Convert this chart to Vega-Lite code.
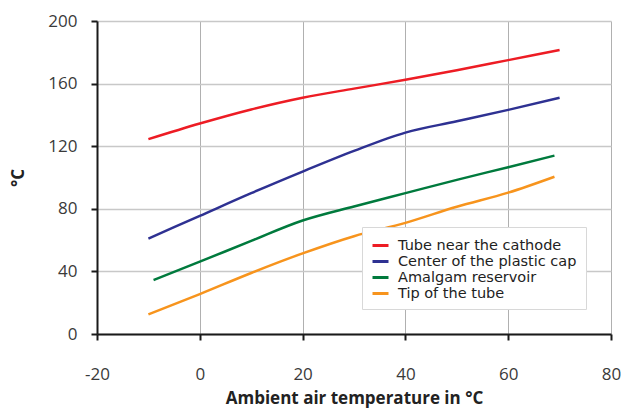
{
  "$schema": "https://vega.github.io/schema/vega-lite/v6.json",
  "autosize": "none",
  "padding": {"left": 97, "top": 21, "right": 23, "bottom": 83},
  "width": 514,
  "height": 313,
  "background": "white",
  "config": {
    "view": {"stroke": null},
    "font": "Open Sans"
  },
  "data": {
    "values": [
      {"series": "Tube near the cathode", "t": -10, "v": 124.5},
      {"series": "Tube near the cathode", "t": 0, "v": 134.5},
      {"series": "Tube near the cathode", "t": 10, "v": 143.5},
      {"series": "Tube near the cathode", "t": 20, "v": 151},
      {"series": "Tube near the cathode", "t": 30, "v": 156.8},
      {"series": "Tube near the cathode", "t": 40, "v": 162.4},
      {"series": "Tube near the cathode", "t": 50, "v": 168.5},
      {"series": "Tube near the cathode", "t": 60, "v": 175},
      {"series": "Tube near the cathode", "t": 70, "v": 181.5},
      {"series": "Center of the plastic cap", "t": -10, "v": 61},
      {"series": "Center of the plastic cap", "t": 0, "v": 75.5},
      {"series": "Center of the plastic cap", "t": 10, "v": 90},
      {"series": "Center of the plastic cap", "t": 20, "v": 103.8},
      {"series": "Center of the plastic cap", "t": 30, "v": 117},
      {"series": "Center of the plastic cap", "t": 40, "v": 128.7},
      {"series": "Center of the plastic cap", "t": 50, "v": 135.9},
      {"series": "Center of the plastic cap", "t": 60, "v": 143.2},
      {"series": "Center of the plastic cap", "t": 70, "v": 151},
      {"series": "Amalgam reservoir", "t": -9, "v": 34.5},
      {"series": "Amalgam reservoir", "t": 0, "v": 46.2},
      {"series": "Amalgam reservoir", "t": 10, "v": 59.5},
      {"series": "Amalgam reservoir", "t": 20, "v": 72.5},
      {"series": "Amalgam reservoir", "t": 30, "v": 81.5},
      {"series": "Amalgam reservoir", "t": 40, "v": 90},
      {"series": "Amalgam reservoir", "t": 50, "v": 98.5},
      {"series": "Amalgam reservoir", "t": 60, "v": 106.6},
      {"series": "Amalgam reservoir", "t": 69, "v": 114},
      {"series": "Tip of the tube", "t": -10, "v": 12.5},
      {"series": "Tip of the tube", "t": 0, "v": 25.5},
      {"series": "Tip of the tube", "t": 10, "v": 39},
      {"series": "Tip of the tube", "t": 20, "v": 51.5},
      {"series": "Tip of the tube", "t": 30, "v": 62.5},
      {"series": "Tip of the tube", "t": 40, "v": 71},
      {"series": "Tip of the tube", "t": 50, "v": 81.3},
      {"series": "Tip of the tube", "t": 60, "v": 90.3},
      {"series": "Tip of the tube", "t": 69, "v": 100.5}
    ]
  },
  "mark": {"type": "line", "strokeWidth": 2.5, "interpolate": "monotone"},
  "encoding": {
    "x": {
      "field": "t", "type": "quantitative",
      "scale": {"domain": [-20, 80], "nice": false},
      "axis": {
        "values": [-20, 0, 20, 40, 60, 80],
        "labelExpr": "toString(datum.value)",
        "title": "Ambient air temperature in °C",
        "titleFont": "Open Sans", "titleFontSize": 17, "titleFontWeight": "bold", "titleColor": "#222222",
        "titlePadding": 8,
        "labelFont": "Open Sans", "labelFontSize": 17, "labelColor": "#3a3a3a", "labelPadding": 26, "labelDx": -5,
        "labelFlush": false,
        "domainColor": "#1a1a1a", "domainWidth": 2,
        "tickColor": "#1a1a1a", "tickWidth": 2, "tickSize": 6,
        "gridColor": "#b0b0b0", "gridWidth": 1
      }
    },
    "y": {
      "field": "v", "type": "quantitative",
      "scale": {"domain": [0, 200], "nice": false},
      "axis": {
        "values": [0, 40, 80, 120, 160, 200],
        "title": "°C",
        "titleFont": "Open Sans", "titleFontSize": 17, "titleFontWeight": "bold", "titleColor": "#222222",
        "titlePadding": 20,
        "labelFont": "Open Sans", "labelFontSize": 17, "labelColor": "#3a3a3a", "labelPadding": 14,
        "domainColor": "#1a1a1a", "domainWidth": 2,
        "tickColor": "#1a1a1a", "tickWidth": 2, "tickSize": 6,
        "gridColor": "#c8c8c8", "gridWidth": 1.5
      }
    },
    "color": {
      "field": "series", "type": "nominal",
      "scale": {
        "domain": ["Tube near the cathode", "Center of the plastic cap", "Amalgam reservoir", "Tip of the tube"],
        "range": ["#ED1C24", "#2E3192", "#007A3D", "#F7941D"]
      },
      "legend": {
        "title": null,
        "orient": "none",
        "legendX": 265,
        "legendY": 206,
        "fillColor": "white",
        "strokeColor": "#d8d8d8",
        "padding": 9,
        "symbolType": "stroke",
        "symbolSize": 256,
        "symbolStrokeWidth": 3,
        "labelFont": "DejaVu Sans",
        "labelFontSize": 14.5,
        "labelColor": "#222222",
        "labelOffset": 8,
        "rowPadding": 0,
        "labelLimit": 300
      }
    }
  }
}
